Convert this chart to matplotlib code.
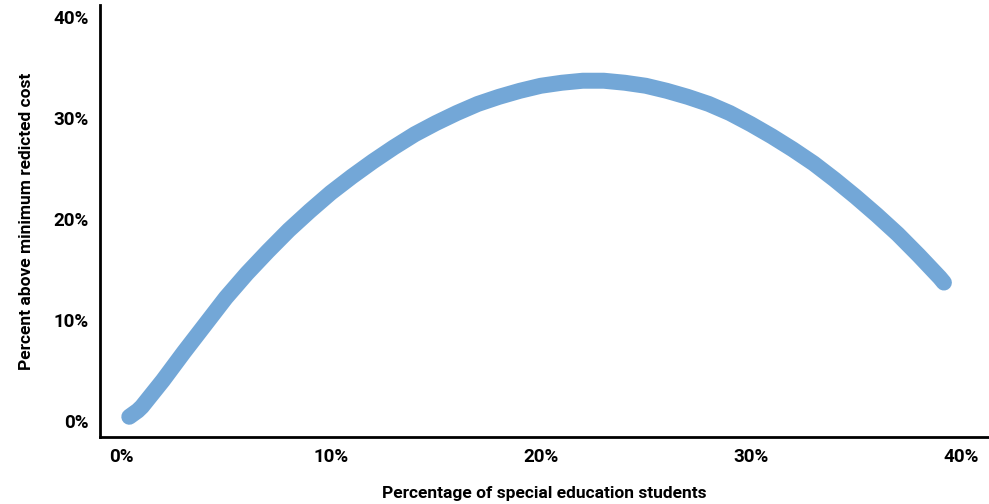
import matplotlib
matplotlib.use('Agg')
import matplotlib.pyplot as plt
from matplotlib.ticker import PercentFormatter

# Curve (share of special ed students vs % above minimum cost)
sped_share = [0.004, 0.008, 0.01, 0.02, 0.03, 0.04, 0.05, 0.06, 0.07, 0.08,
              0.09, 0.10, 0.11, 0.12, 0.13, 0.14, 0.15, 0.16, 0.17, 0.18,
              0.19, 0.20, 0.21, 0.22, 0.23, 0.24, 0.25, 0.26, 0.27, 0.28,
              0.29, 0.30, 0.31, 0.32, 0.33, 0.34, 0.35, 0.36, 0.37, 0.38,
              0.39, 0.392]
pct_above_min = [0.004, 0.010, 0.014, 0.040, 0.068, 0.095, 0.122, 0.146, 0.168, 0.189,
                 0.208, 0.226, 0.242, 0.257, 0.271, 0.284, 0.295, 0.305, 0.314, 0.321,
                 0.327, 0.332, 0.335, 0.337, 0.337, 0.335, 0.332, 0.327, 0.321, 0.314,
                 0.305, 0.294, 0.282, 0.269, 0.255, 0.239, 0.222, 0.204, 0.185, 0.164,
                 0.142, 0.137]

x_ticks = [0.0, 0.1, 0.2, 0.3, 0.4]
y_ticks = [0.0, 0.1, 0.2, 0.3, 0.4]

plt.rcParams['font.family'] = ['Roboto', 'DejaVu Sans']

fig = plt.figure(figsize=(9.89, 5.04), dpi=100)
ax = fig.add_axes([0.101, 0.133, 0.898, 0.857])

ax.plot(sped_share, pct_above_min, color='#73a7d7', linewidth=11.5,
        solid_capstyle='round', solid_joinstyle='round')

ax.set_xlim(-0.01, 0.413)
ax.set_ylim(-0.016, 0.412)
ax.set_xticks(x_ticks)
ax.set_yticks(y_ticks)
ax.xaxis.set_major_formatter(PercentFormatter(1.0, decimals=0))
ax.yaxis.set_major_formatter(PercentFormatter(1.0, decimals=0))
ax.tick_params(length=0, labelsize=13.5, pad=8)
for lab in ax.get_xticklabels() + ax.get_yticklabels():
    lab.set_fontweight('bold')

for s in ['top', 'right']:
    ax.spines[s].set_visible(False)
for s in ['left', 'bottom']:
    ax.spines[s].set_linewidth(2)
    ax.spines[s].set_color('black')

ax.set_xlabel('Percentage of special education students', fontsize=12.5,
              fontweight='bold', labelpad=14)
ax.set_ylabel('Percent above minimum redicted cost', fontsize=12.5,
              fontweight='bold', labelpad=14)

fig.savefig('out.png', dpi=100)
